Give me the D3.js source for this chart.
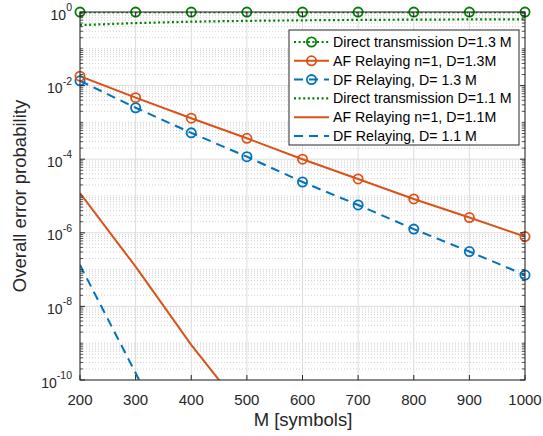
<!DOCTYPE html>
<html>
<head>
<meta charset="utf-8">
<script src="https://cdn.jsdelivr.net/npm/d3@7"></script>
<style>
  html, body { margin: 0; padding: 0; background: #fff; }
  svg { display: block; font-family: "Liberation Sans", Arial, Helvetica, sans-serif; }
</style>
</head>
<body>
<svg id="chart" width="543" height="436"></svg>
<script>
// ---- data ----
const M = [200, 300, 400, 500, 600, 700, 800, 900, 1000];
const directD13 = [0.995, 0.995, 0.995, 0.995, 0.995, 0.995, 0.995, 0.995, 0.995];
const afD13 = [1.8e-2, 4.7e-3, 1.3e-3, 3.7e-4, 1.0e-4, 2.9e-5, 8.3e-6, 2.6e-6, 7.9e-7];
const dfD13 = [1.35e-2, 2.5e-3, 5.2e-4, 1.17e-4, 2.4e-5, 5.7e-6, 1.26e-6, 3.1e-7, 7.1e-8];
const directD11 = [0.44, 0.50, 0.545, 0.575, 0.595, 0.61, 0.62, 0.628, 0.635];
const M_af11 = [200, 300, 400, 500];
const afD11 = [1.2e-5, 1.2e-7, 9e-10, 1.1e-11];
const M_df11 = [200, 300, 400];
const dfD11 = [1.33e-7, 1.55e-10, 1.5e-13];
const xTicks = [200, 300, 400, 500, 600, 700, 800, 900, 1000];
const yTickExps = [0, -2, -4, -6, -8, -10];
const legendLabels = [
  "Direct transmission D=1.3 M",
  "AF Relaying n=1, D=1.3M",
  "DF Relaying, D= 1.3 M",
  "Direct transmission D=1.1 M",
  "AF Relaying n=1, D=1.1M",
  "DF Relaying, D= 1.1 M"
];

// ---- layout ----
const W = 543, H = 436;
const L = 80, R = 525, T = 12, B = 380;
const green = "#008000", orange = "#D95319", blue = "#0072BD", axisCol = "#262626";

const svg = d3.select("#chart");
const x = d3.scaleLinear().domain([200, 1000]).range([L, R]);
const y = d3.scaleLog().domain([1e-10, 1]).range([B, T]);

svg.append("rect").attr("x", L).attr("y", T).attr("width", R - L).attr("height", B - T).attr("fill", "#fff");

const grid = svg.append("g");
const minorVals = [];
for (let e = -10; e < 0; e++) {
  for (let k = 1; k <= 9; k++) {
    const v = k * Math.pow(10, e);
    if (k === 1 && (e % 2 === 0)) continue;
    minorVals.push(v);
  }
}
grid.selectAll("line.minor").data(minorVals).enter().append("line")
  .attr("x1", L).attr("x2", R)
  .attr("y1", d => y(d)).attr("y2", d => y(d))
  .attr("stroke", "#bdbdbd").attr("stroke-width", 0.7).attr("stroke-dasharray", "1,2");
grid.selectAll("line.hmaj").data(yTickExps).enter().append("line")
  .attr("x1", L).attr("x2", R)
  .attr("y1", d => y(Math.pow(10, d))).attr("y2", d => y(Math.pow(10, d)))
  .attr("stroke", "#dcdcdc").attr("stroke-width", 1);
grid.selectAll("line.vmaj").data(xTicks).enter().append("line")
  .attr("x1", d => x(d)).attr("x2", d => x(d))
  .attr("y1", T).attr("y2", B)
  .attr("stroke", "#dcdcdc").attr("stroke-width", 1);

svg.append("clipPath").attr("id", "clip2").append("rect")
  .attr("x", L).attr("y", T).attr("width", R - L).attr("height", B - T);

const line = d3.line().x(d => x(d[0])).y(d => y(d[1]));
const plot = svg.append("g").attr("clip-path", "url(#clip2)");
const mk = svg.append("g");

function series(xs, ys, color, dash, width, markers) {
  const pts = xs.map((v, i) => [v, ys[i]]);
  plot.append("path").datum(pts).attr("d", line)
    .attr("fill", "none").attr("stroke", color).attr("stroke-width", width)
    .attr("stroke-dasharray", dash);
  if (markers) {
    mk.selectAll(null).data(pts).enter().append("circle")
      .attr("cx", d => x(d[0])).attr("cy", d => y(d[1])).attr("r", 4.6)
      .attr("fill", "none").attr("stroke", color).attr("stroke-width", 1.8);
  }
}

series(M, directD11, green, "2,2.6", 2.2, false);
series(M_af11, afD11, orange, null, 2, false);
series(M_df11, dfD11, blue, "9,6", 2, false);
series(M, dfD13, blue, "9,6", 2, true);
series(M, afD13, orange, null, 2, true);
series(M, directD13, green, "2,2.6", 2.2, true);

const ax = svg.append("g");
ax.append("rect").attr("x", L).attr("y", T).attr("width", R - L).attr("height", B - T)
  .attr("fill", "none").attr("stroke", axisCol).attr("stroke-width", 1);
xTicks.forEach(t => {
  ax.append("line").attr("x1", x(t)).attr("x2", x(t)).attr("y1", B).attr("y2", B - 5).attr("stroke", axisCol);
  ax.append("line").attr("x1", x(t)).attr("x2", x(t)).attr("y1", T).attr("y2", T + 5).attr("stroke", axisCol);
  ax.append("text").attr("x", x(t)).attr("y", B + 25).attr("text-anchor", "middle")
    .attr("font-size", 15).attr("fill", axisCol).text(t);
});
minorVals.forEach(v => {
  ax.append("line").attr("x1", L).attr("x2", L + 3).attr("y1", y(v)).attr("y2", y(v)).attr("stroke", axisCol).attr("stroke-width", 0.8);
  ax.append("line").attr("x1", R).attr("x2", R - 3).attr("y1", y(v)).attr("y2", y(v)).attr("stroke", axisCol).attr("stroke-width", 0.8);
});
yTickExps.forEach(e => {
  const yy = y(Math.pow(10, e));
  ax.append("line").attr("x1", L).attr("x2", L + 5).attr("y1", yy).attr("y2", yy).attr("stroke", axisCol);
  ax.append("line").attr("x1", R).attr("x2", R - 5).attr("y1", yy).attr("y2", yy).attr("stroke", axisCol);
  const t = ax.append("text").attr("x", 72).attr("y", yy + 7.5).attr("text-anchor", "end")
    .attr("font-size", 14).attr("fill", axisCol);
  t.append("tspan").text("10");
  t.append("tspan").attr("dy", -8.5).attr("font-size", 10.5).text(e === 0 ? "0" : "-" + Math.abs(e));
});

svg.append("text").attr("x", (L + R) / 2 + 0.5).attr("y", 426).attr("text-anchor", "middle")
  .attr("font-size", 18.5).attr("fill", axisCol).text("M [symbols]");
svg.append("text").attr("transform", `translate(26,${(T + B) / 2}) rotate(-90)`)
  .attr("text-anchor", "middle").attr("font-size", 18.5).attr("fill", axisCol)
  .text("Overall error probability");

const lg = svg.append("g");
lg.append("rect").attr("x", 289).attr("y", 30).attr("width", 230).attr("height", 115)
  .attr("fill", "#fff").attr("stroke", axisCol).attr("stroke-width", 1);
const legendStyles = [
  { c: green, dash: "2,2.6", w: 2.2, m: true },
  { c: orange, dash: null, w: 2, m: true },
  { c: blue, dash: "9,6", w: 2, m: true },
  { c: green, dash: "2,2.6", w: 2.2, m: false },
  { c: orange, dash: null, w: 2, m: false },
  { c: blue, dash: "9,6", w: 2, m: false }
];
legendLabels.forEach((lab, i) => {
  const yy = 42 + i * 18.8;
  const s = legendStyles[i];
  lg.append("line").attr("x1", 294).attr("x2", 329).attr("y1", yy).attr("y2", yy)
    .attr("stroke", s.c).attr("stroke-width", s.w).attr("stroke-dasharray", s.dash);
  if (s.m) lg.append("circle").attr("cx", 311.5).attr("cy", yy).attr("r", 4.6)
    .attr("fill", "none").attr("stroke", s.c).attr("stroke-width", 1.8);
  lg.append("text").attr("x", 333).attr("y", yy + 5).attr("font-size", 14.2)
    .attr("fill", "#000").text(lab);
});
</script>
</body>
</html>
